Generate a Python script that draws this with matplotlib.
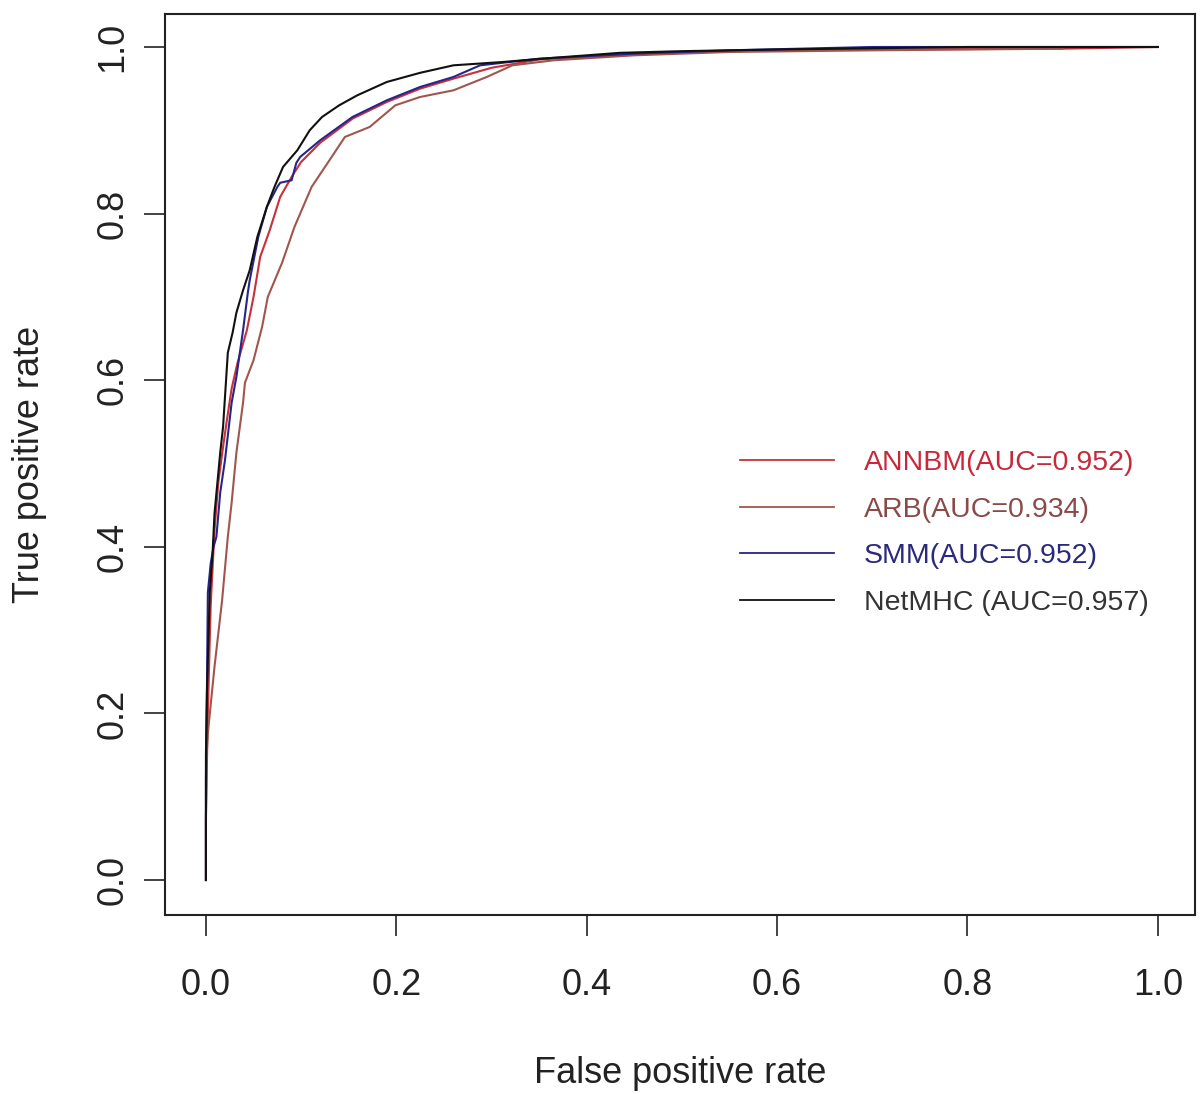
import matplotlib
matplotlib.use("Agg")
import matplotlib.pyplot as plt

plt.rcParams['font.family'] = ['Liberation Sans', 'DejaVu Sans']

# ---- data ----
netmhc_fpr = [0, 0, 0.001, 0.004, 0.007, 0.009, 0.015, 0.018, 0.023, 0.028, 0.032, 0.039, 0.046, 0.054,
              0.064, 0.072, 0.081, 0.096, 0.109, 0.122, 0.14, 0.159, 0.19, 0.225, 0.26, 0.312, 0.365,
              0.435, 0.5, 0.6, 0.8, 1.0]
netmhc_tpr = [0, 0.15, 0.224, 0.345, 0.393, 0.44, 0.513, 0.544, 0.633, 0.657, 0.681, 0.708, 0.732, 0.772,
              0.808, 0.832, 0.856, 0.876, 0.90, 0.916, 0.93, 0.942, 0.958, 0.969, 0.978, 0.982, 0.987,
              0.993, 0.995, 0.997, 1.0, 1.0]

smm_fpr = [0, 0, 0.001, 0.002, 0.005, 0.008, 0.011, 0.015, 0.02, 0.027, 0.032, 0.039, 0.044, 0.046,
           0.055, 0.064, 0.075, 0.078, 0.09, 0.095, 0.099, 0.12, 0.154, 0.19, 0.225, 0.26, 0.288, 0.35,
           0.45, 0.55, 0.7, 1.0]
smm_tpr = [0, 0.12, 0.22, 0.345, 0.38, 0.40, 0.412, 0.465, 0.504, 0.573, 0.604, 0.66, 0.705, 0.72,
           0.772, 0.808, 0.832, 0.837, 0.84, 0.861, 0.868, 0.888, 0.916, 0.936, 0.952, 0.964, 0.978, 0.986,
           0.992, 0.996, 1.0, 1.0]

annbm_fpr = [0, 0, 0.002, 0.005, 0.009, 0.013, 0.018, 0.022, 0.027, 0.033, 0.038, 0.043, 0.05, 0.057,
             0.067, 0.078, 0.09, 0.1, 0.12, 0.154, 0.19, 0.225, 0.26, 0.3, 0.35, 0.45, 0.55, 0.7, 0.9, 1.0]
annbm_tpr = [0, 0.078, 0.2, 0.33, 0.42, 0.477, 0.52, 0.552, 0.59, 0.62, 0.64, 0.66, 0.70, 0.748,
             0.78, 0.82, 0.844, 0.862, 0.885, 0.914, 0.934, 0.95, 0.962, 0.975, 0.985, 0.991, 0.995,
             0.997, 0.998, 1.0]

arb_fpr = [0, 0, 0.001, 0.002, 0.009, 0.017, 0.023, 0.027, 0.032, 0.039, 0.041, 0.05, 0.059, 0.065,
           0.08, 0.093, 0.111, 0.128, 0.146, 0.172, 0.199, 0.225, 0.26, 0.295, 0.322, 0.365, 0.45,
           0.55, 0.7, 0.9, 0.9]
arb_tpr = [0, 0.07, 0.156, 0.176, 0.256, 0.336, 0.412, 0.453, 0.513, 0.573, 0.597, 0.624, 0.664, 0.70,
           0.741, 0.784, 0.832, 0.861, 0.892, 0.904, 0.93, 0.94, 0.948, 0.964, 0.978, 0.984, 0.99,
           0.994, 0.996, 0.998, 1.0]

labels = ["ANNBM(AUC=0.952)", "ARB(AUC=0.934)", "SMM(AUC=0.952)", "NetMHC (AUC=0.957)"]
line_colors = ["#c8303a", "#a0564c", "#25258a", "#111111"]
text_colors = ["#c8283a", "#8a4a48", "#2a2a7a", "#333333"]
ticks = [0.0, 0.2, 0.4, 0.6, 0.8, 1.0]
tick_labels = ["0.0", "0.2", "0.4", "0.6", "0.8", "1.0"]

# ---- figure ----
fig = plt.figure(figsize=(12, 10.94), dpi=100)
ax = fig.add_axes([0.1375, 0.1636, 0.8583, 0.8236])

series = [(annbm_fpr, annbm_tpr), (arb_fpr, arb_tpr), (smm_fpr, smm_tpr), (netmhc_fpr, netmhc_tpr)]
handles = []
for (fx, ty), c, lab in zip(series, line_colors, labels):
    h, = ax.plot(fx, ty, color=c, lw=1.5, label=lab)
    handles.append(h)

ax.set_xlim(-0.043, 1.039)
ax.set_ylim(-0.042, 1.0396)
ax.set_xticks(ticks)
ax.set_xticklabels(tick_labels)
ax.set_yticks(ticks)
ax.set_yticklabels(tick_labels, rotation=90, va='center')
ax.tick_params(axis='both', direction='out', length=15, width=1.2, labelsize=26,
               labelcolor='#222222', color='#222222')
ax.tick_params(axis='x', pad=23)
ax.tick_params(axis='y', pad=10)
for s in ax.spines.values():
    s.set_linewidth(1.5)
    s.set_color('#222222')

ax.set_xlabel("False positive rate", fontsize=26, color='#222222', labelpad=38)
ax.set_ylabel("True positive rate", fontsize=26, color='#222222', labelpad=35)

leg = ax.legend(handles=handles, labels=labels, loc='upper left',
                bbox_to_anchor=(0.558, 0.516), frameon=False, fontsize=20.5,
                handlelength=3.3, handletextpad=1.05, labelspacing=0.72,
                borderpad=0, borderaxespad=0)
for t, c in zip(leg.get_texts(), text_colors):
    t.set_color(c)
for lh in leg.get_lines():
    lh.set_linewidth(1.3)

fig.savefig("out.png", dpi=100, facecolor='white')
